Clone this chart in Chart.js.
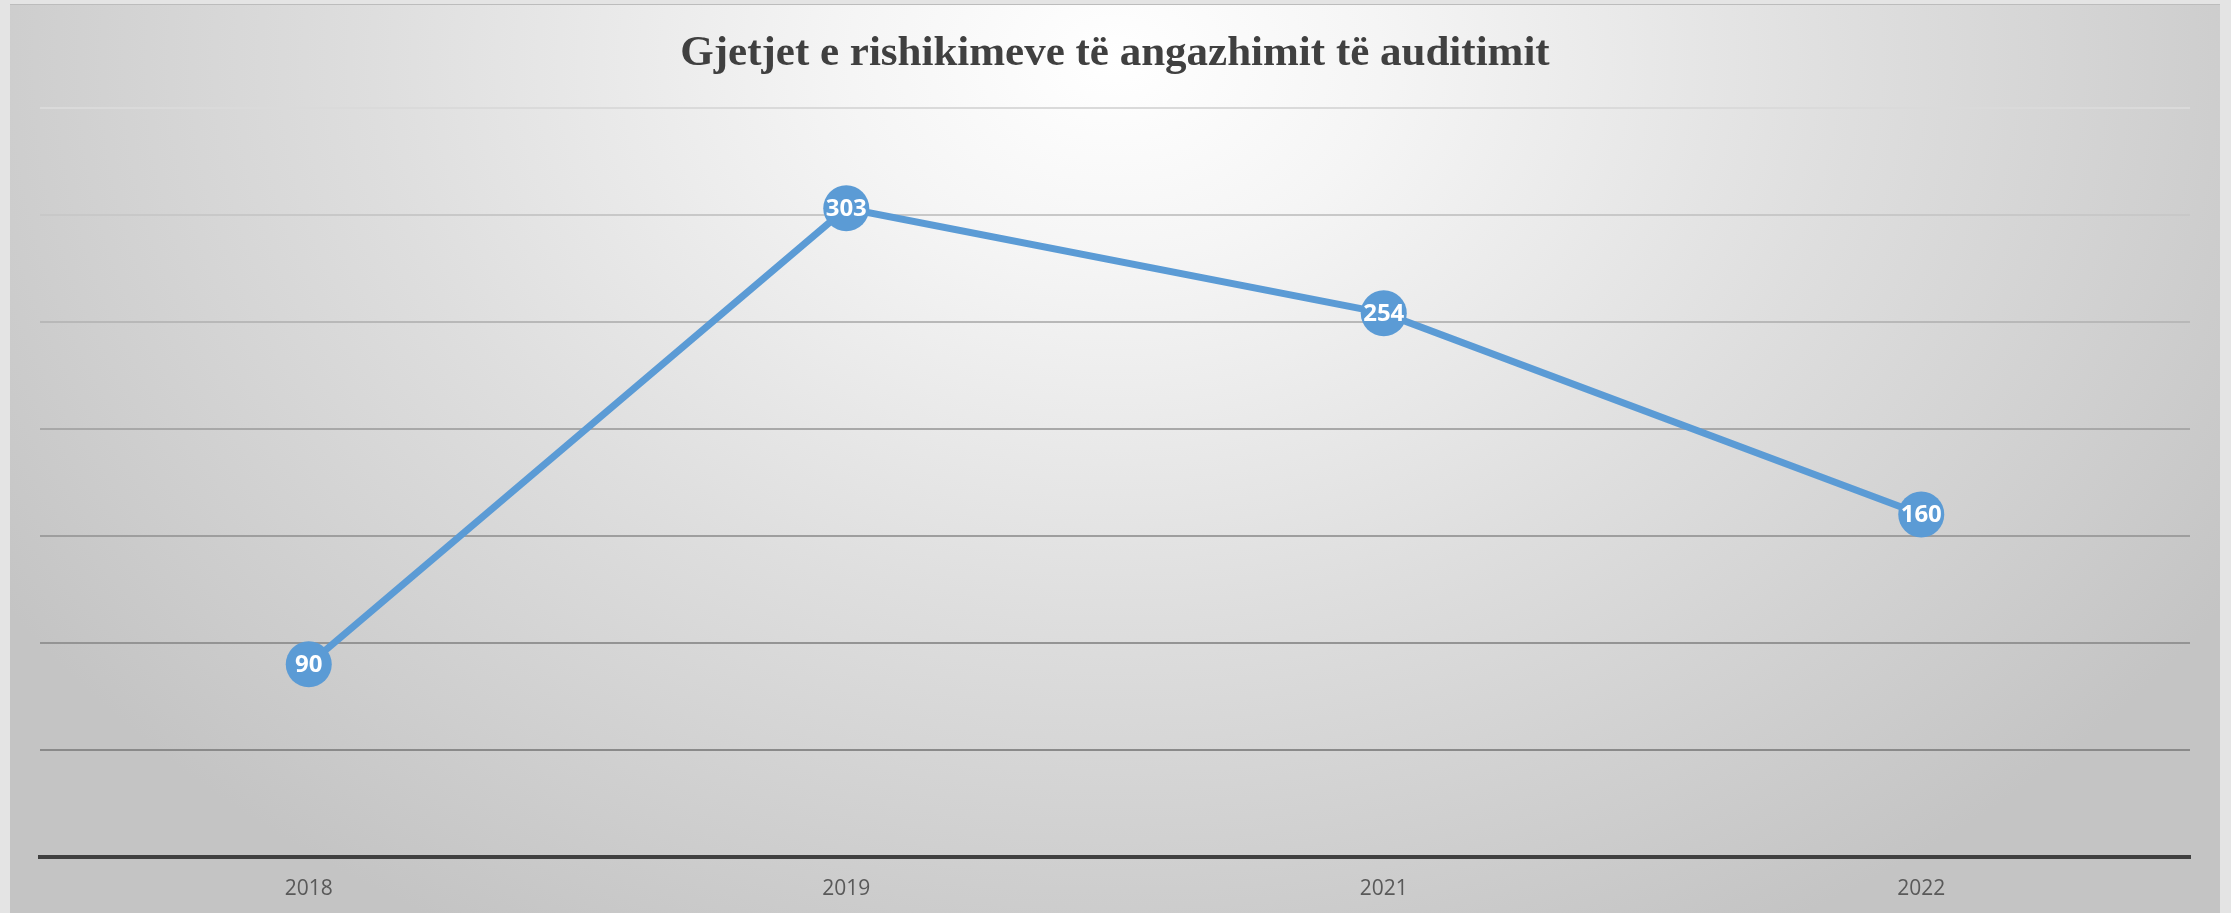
<!DOCTYPE html>
<html lang="sq">
<head>
    <meta charset="UTF-8"/>
    <title>Gjetjet e rishikimeve</title>
    <script src="https://cdn.jsdelivr.net/npm/chart.js"></script>
    <style>
        html, body { margin: 0; padding: 0; background: #e4e4e4; overflow: hidden; }
        .frame {
            position: absolute; left: 10px; top: 4px; width: 2210px; height: 909px;
            border-top: 1px solid #bcbcbc;
            background: radial-gradient(ellipse 60% 110% at 50% 6%, #ffffff 0%, #f5f5f5 20%, #dedede 56%, #c4c4c4 100%);
        }
        #grafik { position: absolute; left: 0; top: 0; }
    </style>
</head>
<body>
    <div class="frame"></div>
    <canvas id="grafik" width="2231" height="913"></canvas>
    <script>
        const vitet = ['2018', '2019', '2021', '2022'];
        const gjetjet = [90, 303, 254, 160];
        const titulli = 'Gjetjet e rishikimeve të angazhimit të auditimit';

        // ngjyrat e vijave te rrjetit (me te lehta lart)
        const ngjyratRrjeti = ['#404040', '#8a8a8a', '#949494', '#9e9e9e', '#a8a8a8', '#b8b8b8', '#c8c8c8', '#dadada'];

        const etiketat = {
            id: 'etiketat',
            afterDatasetsDraw(chart) {
                const c = chart.ctx;
                const meta = chart.getDatasetMeta(0);
                c.save();
                c.fillStyle = '#ffffff';
                c.font = 'bold 24px "Open Sans", sans-serif';
                c.textAlign = 'center';
                c.textBaseline = 'middle';
                meta.data.forEach((p, i) => c.fillText(gjetjet[i], p.x, p.y + 1));
                c.restore();
            }
        };

        new Chart(document.getElementById('grafik'), {
            type: 'line',
            data: {
                labels: vitet,
                datasets: [{
                    data: gjetjet,
                    borderColor: '#5b9bd5',
                    borderWidth: 7,
                    pointRadius: 23,
                    pointHoverRadius: 23,
                    pointBackgroundColor: '#5b9bd5',
                    pointBorderColor: '#5b9bd5',
                    pointBorderWidth: 0,
                    tension: 0
                }]
            },
            options: {
                responsive: false,
                animation: false,
                layout: { padding: { left: 40, right: 41, top: 0, bottom: 13 } },
                plugins: {
                    legend: { display: false },
                    tooltip: { enabled: false },
                    title: {
                        display: true,
                        text: titulli,
                        color: '#404040',
                        font: { family: '"Liberation Serif", "Times New Roman", serif', size: 43, weight: 'bold' },
                        padding: { top: 28, bottom: 28 }
                    }
                },
                scales: {
                    x: {
                        offset: true,
                        grid: { display: false, drawTicks: false },
                        border: { display: true, color: '#404040', width: 4 },
                        ticks: {
                            color: '#595959',
                            padding: 19,
                            font: { family: '"Open Sans", sans-serif', size: 21 }
                        },
                        afterFit: (s) => { s.height = 43; }
                    },
                    y: {
                        min: 0,
                        max: 350,
                        ticks: { display: false, stepSize: 50 },
                        border: { display: false },
                        grid: {
                            drawTicks: false,
                            lineWidth: 2,
                            color: (ctx) => ngjyratRrjeti[ctx.index] || '#bbbbbb'
                        }
                    }
                }
            },
            plugins: [etiketat]
        });
    </script>
</body>
</html>
